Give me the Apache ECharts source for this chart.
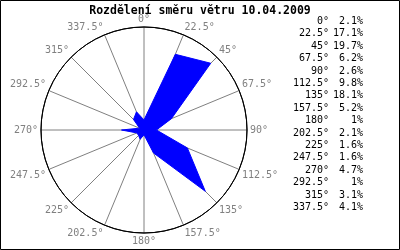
<!DOCTYPE html>
<html><head><meta charset="utf-8">
<script src="https://cdn.jsdelivr.net/npm/echarts@6/dist/echarts.min.js"></script>
<style>html,body{margin:0;padding:0;background:#fff}#c{width:400px;height:250px}</style>
</head><body><div id="c"></div>
<script>
const titleText = 'Rozdělení směru větru 10.04.2009';
const directions = [0, 22.5, 45, 67.5, 90, 112.5, 135, 157.5, 180, 202.5, 225, 247.5, 270, 292.5, 315, 337.5];
const percents = [2.1, 17.1, 19.7, 6.2, 2.6, 9.8, 18.1, 5.2, 1, 2.1, 1.6, 1.6, 4.7, 1, 3.1, 4.1];
const mono = 'DejaVu Sans Mono';

const lineData = directions.map((d, i) => [percents[i], d]);
lineData.push([percents[0], 360]);

const CX = 144, CY = 130, R = 103;

const legendGraphics = [];
directions.forEach((d, i) => {
  const top = 16.5 + 12.4 * i;
  legendGraphics.push({type: 'text', right: 71, top: top, style: {text: d + '°', font: '10px "' + mono + '"', fill: '#000'}});
  legendGraphics.push({type: 'text', right: 37, top: top, style: {text: percents[i] + '%', font: '10px "' + mono + '"', fill: '#000'}});
});
legendGraphics.push({type: 'rect', shape: {x: 0.5, y: 0.5, width: 399, height: 249}, style: {fill: 'none', stroke: '#000', lineWidth: 1}, silent: true});
legendGraphics.push({type: 'circle', shape: {cx: CX, cy: CY, r: R}, style: {fill: 'none', stroke: '#000', lineWidth: 1}, silent: true, z: 1});

const chart = echarts.init(document.getElementById('c'), null, {renderer: 'canvas'});
chart.setOption({
  animation: false,
  backgroundColor: '#fff',
  title: {text: titleText, left: 'center', top: 0, textStyle: {fontFamily: mono, fontWeight: 'bold', fontSize: 11.5, color: '#000'}},
  polar: {center: [CX, CY], radius: R},
  angleAxis: {
    type: 'value', min: 0, max: 360, interval: 22.5, startAngle: 90, clockwise: true,
    axisLine: {show: true, lineStyle: {color: '#000', width: 1}},
    axisTick: {show: false},
    splitLine: {show: true, lineStyle: {color: '#808080', width: 1}},
    axisLabel: {margin: 3, color: '#808080', fontFamily: mono, fontSize: 10, formatter: v => v >= 360 ? '' : v + '°'}
  },
  radiusAxis: {
    type: 'value', min: 0, max: 21.5, show: false,
    axisLine: {show: false}, axisLabel: {show: false}, axisTick: {show: false}, splitLine: {show: false}
  },
  series: [{
    type: 'line', coordinateSystem: 'polar', data: lineData, symbol: 'none',
    lineStyle: {color: '#0000ff', width: 1}, areaStyle: {color: '#0000ff', opacity: 1}, z: 3
  }],
  graphic: legendGraphics
});
</script></body></html>
